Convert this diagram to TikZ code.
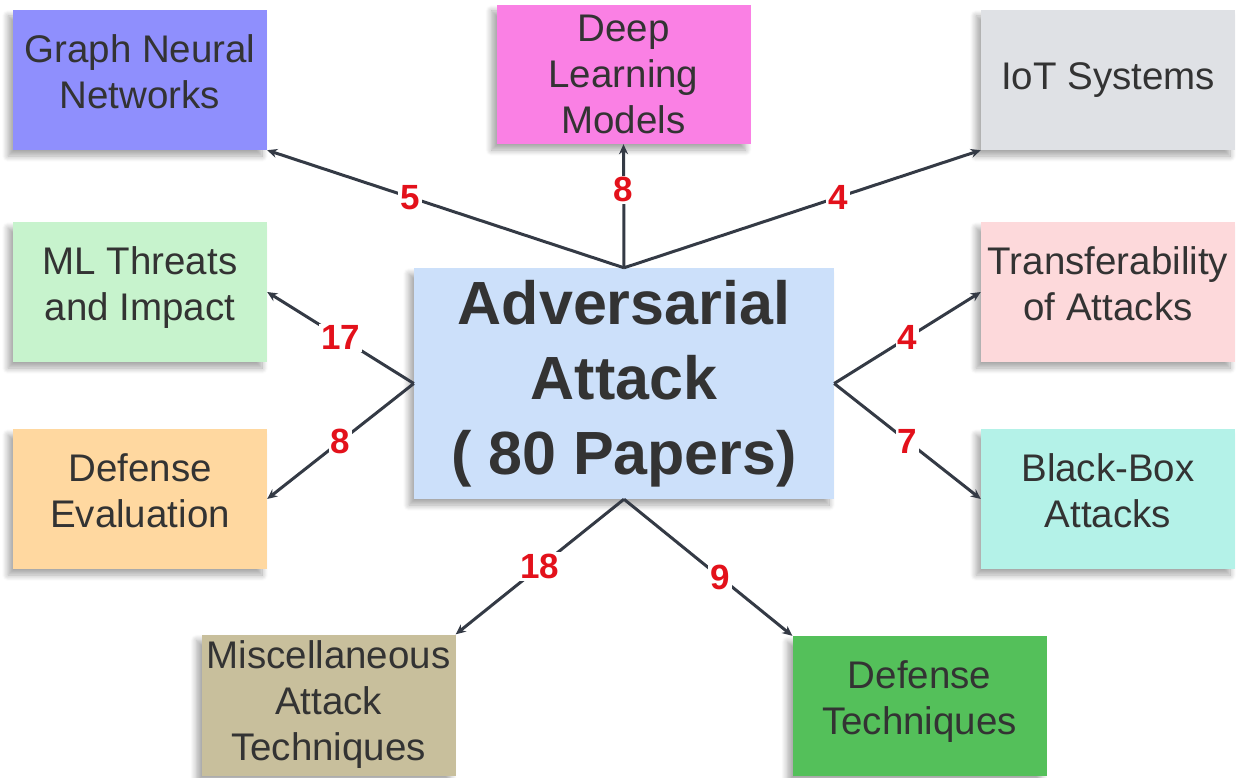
\documentclass[tikz,border=0pt]{standalone}
\usepackage{fontspec}
\setmainfont{Liberation Sans}
\usetikzlibrary{arrows.meta,shadows.blur}

\definecolor{ink}{HTML}{333333}
\definecolor{edge}{HTML}{343A45}
\definecolor{countred}{HTML}{E3111B}

\begin{document}
\begin{tikzpicture}
  [x=1pt,y=-1pt,
    box/.style={rectangle,minimum width=254pt,minimum height=140pt,text=ink,align=center,
      font=\fontsize{38.5}{46}\selectfont,
      blur shadow={shadow xshift=-5pt,shadow yshift=-6pt,shadow blur radius=6pt,shadow blur steps=10,shadow opacity=35}},
    twoline/.style={text depth=17pt},
    conn/.style={draw=edge,line width=3pt,-{Stealth[length=10pt,width=9pt]}},
    num/.style={fill=white,inner sep=2pt,text=countred,font=\fontsize{35}{35}\selectfont\bfseries},
]
  \useasboundingbox (0,0) rectangle (1236,778);

  \node[box,twoline,fill={rgb,255:red,143;green,143;blue,253}] (gnn) at (140,80) {Graph Neural\\Networks};
  \node[box,fill={rgb,255:red,250;green,128;blue,228},minimum height=139pt] (dlm) at (623.5,74.5) {Deep\\Learning\\Models};
  \node[box,fill={rgb,255:red,223;green,225;blue,229}] (iot) at (1108,80) {IoT Systems};
  \node[box,twoline,fill={rgb,255:red,199;green,243;blue,205}] (mlt) at (140,292) {ML Threats\\and Impact};
  \node[box,twoline,fill={rgb,255:red,253;green,217;blue,219}] (tra) at (1108,292) {Transferability\\of Attacks};
  \node[box,twoline,fill={rgb,255:red,255;green,216;blue,160}] (dev) at (140,499) {Defense\\Evaluation};
  \node[box,twoline,fill={rgb,255:red,180;green,242;blue,232}] (bbx) at (1108,499) {Black-Box\\Attacks};
  \node[box,fill={rgb,255:red,200;green,191;blue,156},minimum height=141pt] (mis) at (328.5,705) {Miscellaneous\\Attack\\Techniques};
  \node[box,twoline,fill={rgb,255:red,84;green,192;blue,90}] (dtq) at (919.5,706) {Defense\\Techniques};

  \node[box,fill={rgb,255:red,204;green,224;blue,250},minimum width=420pt,minimum height=231pt,
    font=\fontsize{61}{75}\selectfont\bfseries] (adv) at (624,383.5) {Adversarial\\Attack\\( 80 Papers)};

  \draw[conn] (adv.north) -- node[num,pos=0.6] {5} (gnn.south east);
  \draw[conn] (adv.north) -- node[num,pos=0.63] {8} (dlm.south);
  \draw[conn] (adv.north) -- node[num,pos=0.6] {4} (iot.south west);
  \draw[conn] (adv.west) -- node[num] {17} (mlt.east);
  \draw[conn] (adv.west) -- node[num] {8} (dev.east);
  \draw[conn] (adv.east) -- node[num] {4} (tra.west);
  \draw[conn] (adv.east) -- node[num] {7} (bbx.west);
  \draw[conn] (adv.south) -- node[num] {18} (mis.north east);
  \draw[conn] (adv.south) -- node[num,pos=0.57] {9} (dtq.north west);
\end{tikzpicture}
\end{document}
